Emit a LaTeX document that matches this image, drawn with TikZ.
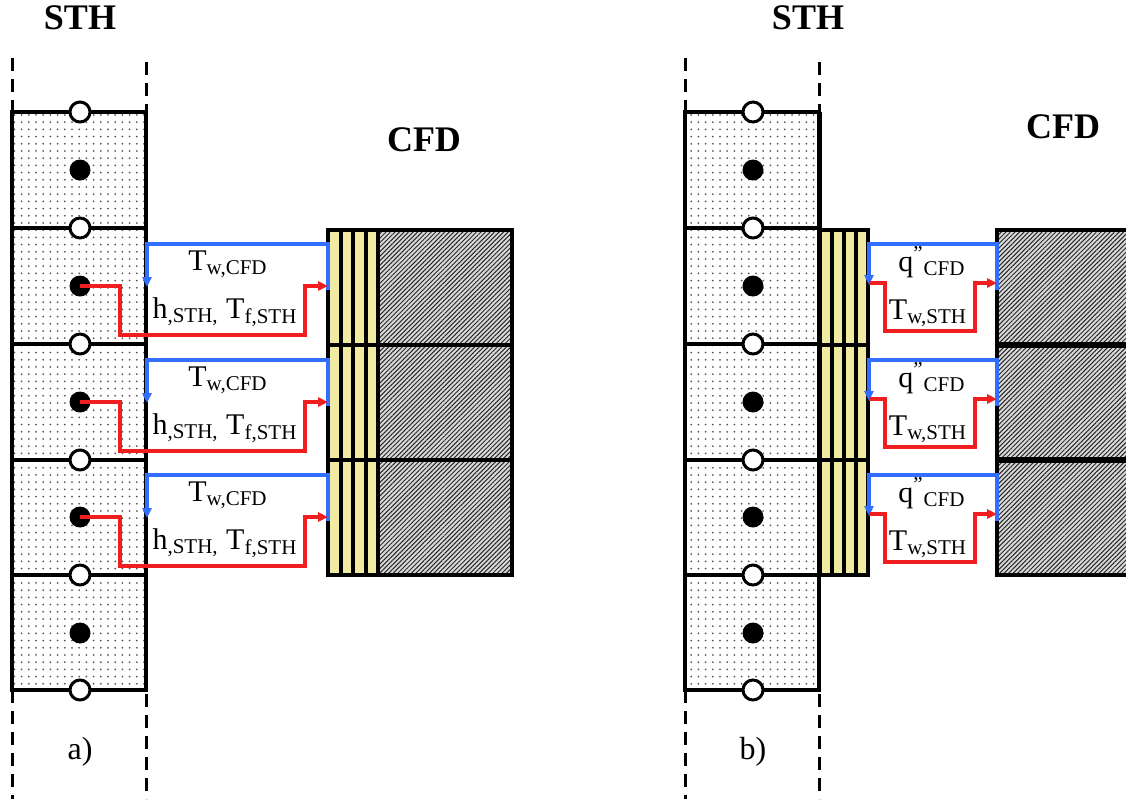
\documentclass[tikz,border=0pt]{standalone}
\usepackage{fontspec}
\setmainfont{Liberation Serif}
\usetikzlibrary{patterns.meta,arrows.meta}
\definecolor{cblue}{RGB}{50,110,255}
\definecolor{cred}{RGB}{240,30,30}
\definecolor{cyel}{RGB}{240,235,160}
\tikzset{
  dashv/.style={line width=1.5pt, dash pattern=on 6.5pt off 4pt},
  sthcol/.style={line width=1.6pt, pattern={Dots[distance=3.6pt,radius=0.5pt]}, pattern color=black!65},
  divline/.style={line width=1.6pt},
  ocirc/.style={circle, draw, line width=1.5pt, fill=white, minimum size=10pt, inner sep=0pt},
  fdot/.style={circle, fill=black, minimum size=10.5pt, inner sep=0pt},
  yel/.style={fill=cyel, draw, line width=2pt},
  ysep/.style={line width=2pt},
  hatch/.style={preaction={fill=gray!30}, pattern={Lines[angle=45,distance=1.6pt,line width=0.5pt]}, pattern color=black!85, draw, line width=2pt},
  blk/.style={line width=2.2pt},
  bluearr/.style={draw=cblue, line width=1.7pt, -{Triangle[length=5pt,width=4.5pt]}},
  redarr/.style={draw=cred, line width=1.7pt, -{Triangle[length=5pt,width=4.5pt]}},
  lbl/.style={font=\fontsize{15}{18}\selectfont, inner sep=0pt},
  ttl/.style={font=\fontsize{18}{21}\selectfont\bfseries, inner sep=0pt},
  captxt/.style={font=\fontsize{16}{19}\selectfont, inner sep=0pt}
}
\begin{document}
\begin{tikzpicture}[x=0.5pt,y=-0.5pt]
\useasboundingbox (0,0) rectangle (1126,799);

% ---------- STH columns (both panels) ----------
\foreach \p/\dx in {L/0,R/673}{
  \begin{scope}[shift={(\dx,0)}]
    \draw[dashv] (12,58) -- (12,112);
    \draw[dashv] (146,62) -- (146,112);
    \draw[dashv] (12,690) -- (12,799);
    \draw[dashv] (146,694) -- (146,799);
    \draw[sthcol] (12,112) rectangle (146,690);
    \foreach \yy in {228,344,460,575}{
      \draw[divline] (12,\yy) -- (146,\yy);
    }
    \draw[line width=2.4pt] (12,690) -- (146,690);
    \foreach \yy [count=\k] in {112,228,344,460,575,690}{
      \node[ocirc] (o\p\k) at (80,\yy) {};
    }
    \foreach \yy [count=\k] in {170,286,402,517,633}{
      \node[fdot] (d\p\k) at (80,\yy) {};
    }
  \end{scope}
}
\node[ttl] (sthL) at (80,18) {STH};
\node[ttl] (sthR) at (808,18) {STH};
\node[captxt] (capa) at (80,752) {a)};
\node[captxt] (capb) at (753,752) {b)};
\node[ttl] (cfdL) at (424,140) {CFD};
\node[ttl] (cfdR) at (1063,127) {CFD};

% ---------- left CFD block ----------
\draw[yel] (328,230) rectangle (378,575);
\foreach \xx in {340.5,353,365.5}{ \draw[ysep] (\xx,230) -- (\xx,575); }
\draw[hatch] (378,230) rectangle (512,575);
\foreach \yy in {345,460}{ \draw[blk] (328,\yy) -- (512,\yy); }
\draw[blk] (378,230) -- (378,575);

% ---------- right CFD block ----------
\draw[yel] (820,230) rectangle (868,575);
\foreach \xx in {832,844,856}{ \draw[ysep] (\xx,230) -- (\xx,575); }
\draw[hatch] (997,230) rectangle (1140,575);
\foreach \yy in {345,460}{ \draw[blk] (820,\yy) -- (868,\yy); \draw[line width=2.6pt] (997,\yy) -- (1140,\yy); }
\draw[line width=1.6pt] (820,112) -- (820,575);

% ---------- left coupling arrows ----------
\foreach \k/\dy in {2/0,3/116,4/231}{
  \coordinate (bLs\k) at (328,290+\dy);
  \coordinate (bLe\k) at (147,287+\dy);
  \coordinate (rLe\k) at (328,286+\dy);
  \draw[bluearr] (bLs\k) -- (328,244+\dy) -- (147,244+\dy) -- (bLe\k);
  \draw[redarr] (dL\k.center) -- (120,286+\dy) -- (120,335+\dy) -- (305,335+\dy) -- (305,286+\dy) -- (rLe\k);
  \node[lbl] (tL\k) at (228,264+\dy) {T\textsubscript{w,CFD}};
  \node[lbl] (hL\k) at (225,312+\dy) {h\textsubscript{,STH,} T\textsubscript{f,STH}};
}

% ---------- right coupling arrows ----------
\foreach \k/\dy in {2/0,3/116,4/231}{
  \coordinate (bRs\k) at (997,290+\dy);
  \coordinate (bRe\k) at (869,285+\dy);
  \coordinate (rRs\k) at (869,283+\dy);
  \coordinate (rRe\k) at (997,283+\dy);
  \draw[bluearr] (bRs\k) -- (997,244+\dy) -- (869,244+\dy) -- (bRe\k);
  \draw[redarr] (rRs\k) -- (885,283+\dy) -- (885,331+\dy) -- (975,331+\dy) -- (975,283+\dy) -- (rRe\k);
  \node[lbl] (qR\k) at (932,262+\dy) {q\textsuperscript{"}\textsubscript{CFD}};
  \node[lbl] (tR\k) at (928,313+\dy) {T\textsubscript{w,STH}};
}
\end{tikzpicture}
\end{document}
